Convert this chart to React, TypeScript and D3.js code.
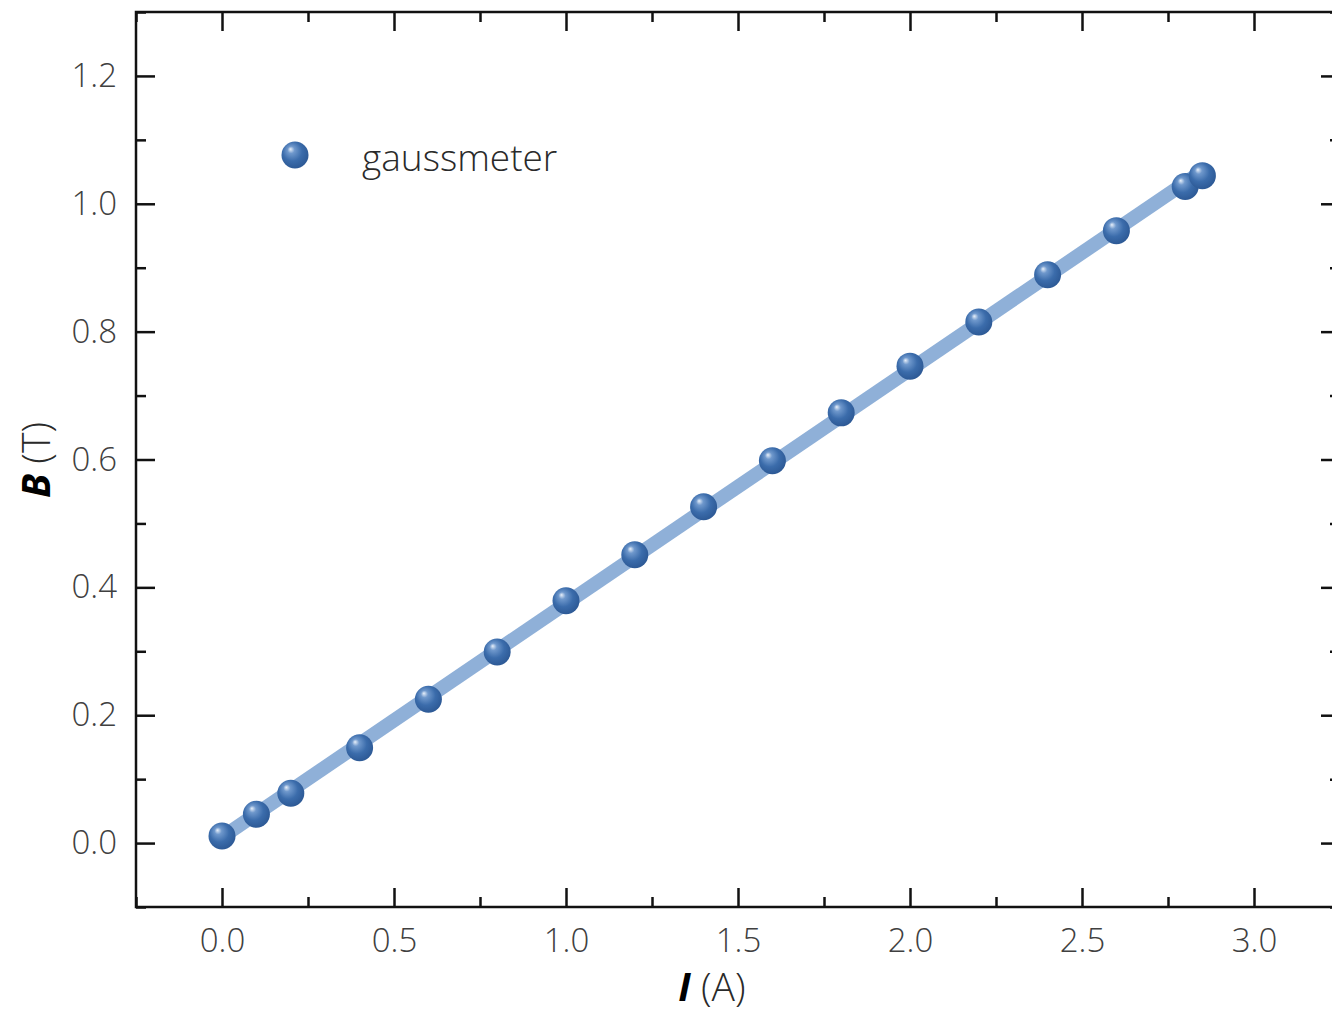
import React, { useEffect, useRef } from "react";
import * as d3 from "d3";

// gaussmeter readings: current I (A) and field B (T)
const currents = [0, 0.1, 0.2, 0.4, 0.6, 0.8, 1.0, 1.2, 1.4, 1.6, 1.8, 2.0, 2.2, 2.4, 2.6, 2.8, 2.85];
const fields = [0.011, 0.045, 0.078, 0.149, 0.225, 0.299, 0.379, 0.451, 0.526, 0.598, 0.673, 0.746, 0.815, 0.889, 0.958, 1.027, 1.044];

const xTicks = [0, 0.5, 1.0, 1.5, 2.0, 2.5, 3.0];
const xMinorTicks = [-0.25, 0.25, 0.75, 1.25, 1.75, 2.25, 2.75, 3.25];
const yTicks = [0, 0.2, 0.4, 0.6, 0.8, 1.0, 1.2];
const yMinorTicks = [-0.1, 0.1, 0.3, 0.5, 0.7, 0.9, 1.1, 1.3];

const legendLabel = "gaussmeter";

const W = 1332;
const H = 1013;
const FONT = "'Open Sans', 'Noto Sans', sans-serif";

function App() {
  const svgRef = useRef<SVGSVGElement>(null);

  useEffect(() => {
    const svg = d3.select(svgRef.current);
    svg.selectAll("*").remove();

    const x = d3.scaleLinear().domain([-0.25, 3.25]).range([136, 1340]);
    const y = d3.scaleLinear().domain([-0.1, 1.3]).range([907, 12]);

    const defs = svg.append("defs");
    const grad = defs
      .append("radialGradient")
      .attr("id", "ball")
      .attr("cx", "45%")
      .attr("cy", "42%")
      .attr("r", "60%")
      .attr("fx", "33%")
      .attr("fy", "28%");
    grad.append("stop").attr("offset", "0%").attr("stop-color", "#e8f0fa");
    grad.append("stop").attr("offset", "22%").attr("stop-color", "#6f98cc");
    grad.append("stop").attr("offset", "60%").attr("stop-color", "#3b6cab");
    grad.append("stop").attr("offset", "100%").attr("stop-color", "#2c5894");

    // linear fit through the readings
    const mx = d3.mean(currents)!;
    const my = d3.mean(fields)!;
    const slope =
      d3.sum(currents, (c, i) => (c - mx) * (fields[i] - my)) /
      d3.sum(currents, (c) => (c - mx) * (c - mx));
    const icpt = my - slope * mx;
    const x0 = d3.min(currents)!;
    const x1 = d3.max(currents)!;
    const fitLine = d3
      .line<number>()
      .x((d) => x(d))
      .y((d) => y(icpt + slope * d));

    svg
      .append("path")
      .datum([x0, x1])
      .attr("d", fitLine)
      .attr("fill", "none")
      .attr("stroke", "#8fb0d8")
      .attr("stroke-width", 14)
      .attr("stroke-linecap", "butt");

    svg
      .append("g")
      .selectAll("circle")
      .data(currents)
      .join("circle")
      .attr("cx", (d) => x(d))
      .attr("cy", (d, i) => y(fields[i]))
      .attr("r", 13.5)
      .attr("fill", "url(#ball)");

    // axes: ticks inward on all four sides
    const styleAxis = (g: any) => {
      g.select(".domain").remove();
      g.selectAll("line").attr("stroke", "#111").attr("stroke-width", 2.5);
      g.selectAll("text")
        .attr("font-family", FONT)
        .attr("font-weight", 300)
        .attr("font-size", 33)
        .attr("fill", "#404040");
    };
    const fmt = d3.format(".1f");

    svg
      .append("g")
      .attr("transform", "translate(0,907)")
      .call(d3.axisBottom(x).tickValues(xTicks).tickFormat(fmt as any).tickSize(-19).tickPadding(22))
      .call(styleAxis);
    svg
      .append("g")
      .attr("transform", "translate(0,907)")
      .call(d3.axisBottom(x).tickValues(xMinorTicks).tickFormat(() => "").tickSize(-10))
      .call(styleAxis);
    svg
      .append("g")
      .attr("transform", "translate(0,12)")
      .call(d3.axisTop(x).tickValues(xTicks).tickFormat(() => "").tickSize(-19))
      .call(styleAxis);
    svg
      .append("g")
      .attr("transform", "translate(0,12)")
      .call(d3.axisTop(x).tickValues(xMinorTicks).tickFormat(() => "").tickSize(-10))
      .call(styleAxis);

    svg
      .append("g")
      .attr("transform", "translate(136,0)")
      .call(d3.axisLeft(y).tickValues(yTicks).tickFormat(fmt as any).tickSize(-19).tickPadding(19))
      .call(styleAxis);
    svg
      .append("g")
      .attr("transform", "translate(136,0)")
      .call(d3.axisLeft(y).tickValues(yMinorTicks).tickFormat(() => "").tickSize(-10))
      .call(styleAxis);
    svg
      .append("g")
      .attr("transform", "translate(1340,0)")
      .call(d3.axisRight(y).tickValues(yTicks).tickFormat(() => "").tickSize(-19))
      .call(styleAxis);
    svg
      .append("g")
      .attr("transform", "translate(1340,0)")
      .call(d3.axisRight(y).tickValues(yMinorTicks).tickFormat(() => "").tickSize(-10))
      .call(styleAxis);

    // frame
    svg
      .append("rect")
      .attr("x", 136)
      .attr("y", 12)
      .attr("width", 1340 - 136)
      .attr("height", 907 - 12)
      .attr("fill", "none")
      .attr("stroke", "#111")
      .attr("stroke-width", 2.5);

    // legend
    svg.append("circle").attr("cx", 295).attr("cy", 155).attr("r", 13.5).attr("fill", "url(#ball)");
    svg
      .append("text")
      .attr("x", 362)
      .attr("y", 171)
      .attr("font-family", FONT)
      .attr("font-weight", 300)
      .attr("font-size", 37)
      .attr("fill", "#2a2a2a")
      .text(legendLabel);

    // axis titles
    const xt = svg
      .append("text")
      .attr("x", 712)
      .attr("y", 1001)
      .attr("text-anchor", "middle")
      .attr("font-family", FONT)
      .attr("font-size", 39)
      .attr("fill", "#2a2a2a");
    xt.append("tspan").attr("font-weight", 700).attr("font-style", "italic").attr("fill", "#000").text("I");
    xt.append("tspan").attr("font-weight", 300).text(" (A)");

    const yt = svg
      .append("text")
      .attr("transform", "translate(50,460) rotate(-90)")
      .attr("text-anchor", "middle")
      .attr("font-family", FONT)
      .attr("font-size", 39)
      .attr("fill", "#2a2a2a");
    yt.append("tspan").attr("font-weight", 700).attr("font-style", "italic").attr("fill", "#000").text("B");
    yt.append("tspan").attr("font-weight", 300).text(" (T)");
  }, []);

  return (
    <svg
      ref={svgRef}
      width={W}
      height={H}
      style={{ position: "absolute", left: 0, top: 0, background: "#fff" }}
    />
  );
}

export default App;
